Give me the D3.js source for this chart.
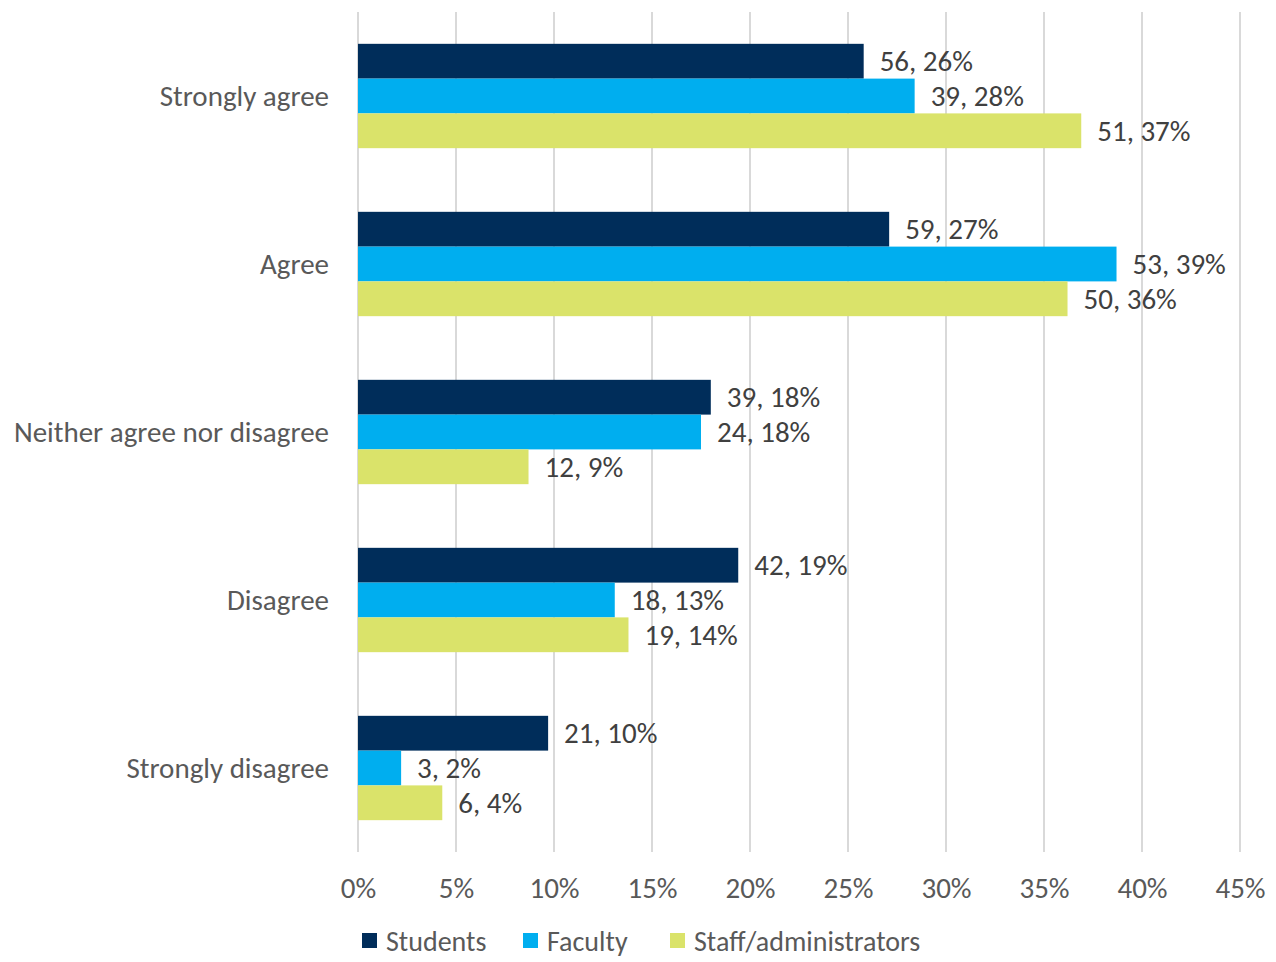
<!DOCTYPE html>
<html>
<head>
<meta charset="utf-8">
<script src="https://cdn.jsdelivr.net/npm/d3@7"></script>
<style>
  body { margin: 0; background: #fff; }
  text { font-family: Carlito, Lato, "Open Sans", sans-serif; }
  .tick text { fill: #595959; font-size: 29px; }
  .cat { fill: #595959; font-size: 29px; }
  .val { fill: #404040; font-size: 29px; }
  .leg { fill: #595959; font-size: 28px; }
</style>
</head>
<body>
<svg id="chart" width="1276" height="962"></svg>
<script>
var categories = ["Strongly agree", "Agree", "Neither agree nor disagree", "Disagree", "Strongly disagree"];
var seriesNames = ["Students", "Faculty", "Staff/administrators"];
var colors = ["#002d5a", "#00aeef", "#dae36a"];

// percent of respondents (bar length) and counts (label)
var studentsPct = [25.8, 27.1, 18.0, 19.4, 9.7];
var facultyPct  = [28.4, 38.7, 17.5, 13.1, 2.2];
var staffPct    = [36.9, 36.2, 8.7, 13.8, 4.3];
var studentsN = [56, 59, 39, 42, 21];
var facultyN  = [39, 53, 24, 18, 3];
var staffN    = [51, 50, 12, 19, 6];
var xTicks = [0, 5, 10, 15, 20, 25, 30, 35, 40, 45];

var pcts = [studentsPct, facultyPct, staffPct];
var counts = [studentsN, facultyN, staffN];

var svg = d3.select("#chart");
var plotLeft = 358, plotRight = 1240, plotTop = 12, plotBottom = 852;

var xScale = d3.scaleLinear().domain([0, 45]).range([plotLeft, plotRight]);
var yScale = d3.scaleBand().domain(categories).range([plotTop, plotBottom]);
var inner = d3.scaleBand().domain(seriesNames)
  .range([0, yScale.bandwidth()]).paddingOuter(0.915).paddingInner(0);

// gridlines
svg.append("g").selectAll("line")
  .data(xTicks).enter().append("line")
  .attr("x1", function(d) { return xScale(d); })
  .attr("x2", function(d) { return xScale(d); })
  .attr("y1", plotTop).attr("y2", plotBottom)
  .attr("stroke", "#d9d9d9").attr("stroke-width", 2);

// x axis labels
var xAxis = svg.append("g")
  .attr("transform", "translate(0," + plotBottom + ")")
  .call(d3.axisBottom(xScale).tickValues(xTicks).tickSize(0).tickPadding(25)
    .tickFormat(function(d) { return d + "%"; }));
xAxis.select(".domain").remove();
xAxis.attr("font-family", null).attr("font-size", null);

// category labels
svg.append("g").selectAll("text")
  .data(categories).enter().append("text")
  .attr("class", "cat")
  .attr("x", plotLeft - 29)
  .attr("y", function(d) { return yScale(d) + yScale.bandwidth() / 2; })
  .attr("dy", "0.35em")
  .attr("text-anchor", "end")
  .text(function(d) { return d; });

// bars
seriesNames.forEach(function(s, si) {
  var g = svg.append("g");
  var rows = categories.map(function(c, i) {
    return { cat: c, pct: pcts[si][i], n: counts[si][i] };
  });
  g.selectAll("rect").data(rows).enter().append("rect")
    .attr("x", xScale(0))
    .attr("y", function(d) { return yScale(d.cat) + inner(s); })
    .attr("width", function(d) { return xScale(d.pct) - xScale(0); })
    .attr("height", inner.bandwidth())
    .attr("fill", colors[si]);
  g.selectAll("text").data(rows).enter().append("text")
    .attr("class", "val")
    .attr("x", function(d) { return xScale(d.pct) + 16; })
    .attr("y", function(d) { return yScale(d.cat) + inner(s) + inner.bandwidth() / 2; })
    .attr("dy", "0.35em")
    .text(function(d) { return d.n + ", " + Math.round(d.pct) + "%"; });
});

// legend
var legX = [362, 523, 670];
var legend = svg.append("g").selectAll("g")
  .data(seriesNames).enter().append("g")
  .attr("transform", function(d, i) { return "translate(" + legX[i] + ",933)"; });
legend.append("rect").attr("width", 15).attr("height", 15)
  .attr("fill", function(d, i) { return colors[i]; });
legend.append("text").attr("class", "leg")
  .attr("x", 24).attr("y", 8).attr("dy", "0.35em")
  .text(function(d) { return d; });
</script>
</body>
</html>
